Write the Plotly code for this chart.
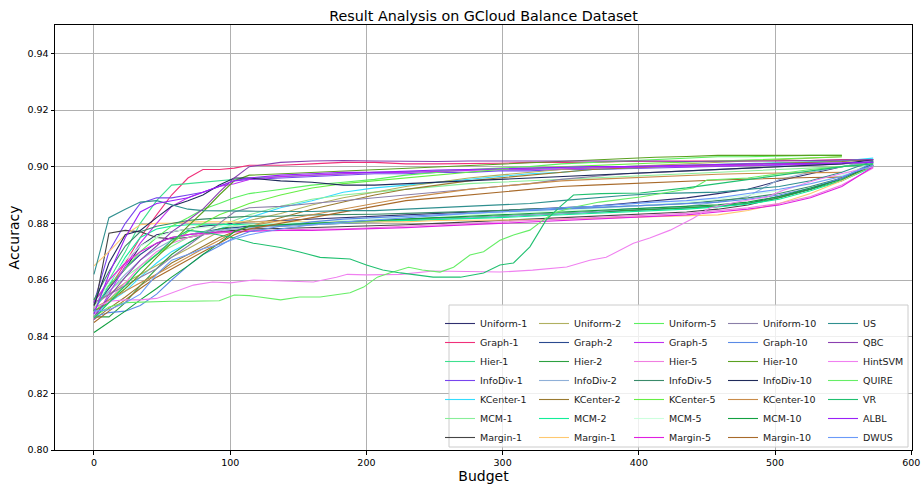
import plotly.graph_objects as go

# ---------------- data ----------------
BUDGET = [0, 11, 23, 34, 46, 57, 69, 80, 92, 103,
          114, 137, 160, 183, 206, 229, 252, 275, 297, 320,
          343, 366, 389, 412, 435, 458, 480, 503, 526, 549,
          572]

uniform_1 = [0.853, 0.858, 0.864, 0.872, 0.876, 0.877, 0.878, 0.879, 0.8795, 0.880,
             0.8805, 0.881, 0.8815, 0.882, 0.8825, 0.883, 0.8835, 0.884, 0.8845, 0.885,
             0.8855, 0.886, 0.887, 0.888, 0.889, 0.8905, 0.892, 0.895, 0.8975, 0.900,
             0.902]
graph_1 = [0.851, 0.857, 0.866, 0.875, 0.883, 0.890, 0.896, 0.899, 0.899, 0.8995,
           0.9005, 0.9005, 0.901, 0.9015, 0.9015, 0.901, 0.901, 0.901, 0.9012, 0.9015,
           0.9015, 0.9015, 0.9018, 0.902, 0.902, 0.902, 0.902, 0.9022, 0.9022, 0.9025,
           0.9025]
hier_1 = [0.850, 0.860, 0.870, 0.880, 0.888, 0.8935, 0.894, 0.8945, 0.895, 0.8955,
          0.896, 0.8965, 0.897, 0.8975, 0.898, 0.8982, 0.8985, 0.899, 0.899, 0.8993,
          0.8995, 0.8998, 0.900, 0.9003, 0.9005, 0.9008, 0.901, 0.9013, 0.9016, 0.902,
          0.9025]
infodiv_1 = [0.852, 0.870, 0.880, 0.887, 0.889, 0.889, 0.890, 0.891, 0.893, 0.895,
             0.8955, 0.896, 0.8965, 0.897, 0.8975, 0.8975, 0.898, 0.898, 0.8985, 0.8985,
             0.899, 0.899, 0.8993, 0.8995, 0.8998, 0.900, 0.9003, 0.9005, 0.9008, 0.901,
             0.9015]
kcenter_1 = [0.848, 0.852, 0.856, 0.861, 0.866, 0.870, 0.873, 0.876, 0.878, 0.880,
             0.882, 0.8855, 0.888, 0.891, 0.8925, 0.8935, 0.8945, 0.8955, 0.8965, 0.8975,
             0.898, 0.899, 0.8995, 0.900, 0.9003, 0.9006, 0.901, 0.9013, 0.9016, 0.902,
             0.903]
mcm_1 = [0.851, 0.856, 0.861, 0.865, 0.869, 0.872, 0.875, 0.877, 0.879, 0.881,
         0.883, 0.886, 0.8885, 0.890, 0.891, 0.892, 0.893, 0.894, 0.8945, 0.895,
         0.8955, 0.896, 0.8965, 0.897, 0.8975, 0.898, 0.8985, 0.899, 0.8995, 0.900,
         0.9015]
margin_1 = [0.849, 0.8765, 0.8775, 0.877, 0.875, 0.8745, 0.875, 0.876, 0.877, 0.8775,
            0.878, 0.8782, 0.8785, 0.8788, 0.879, 0.8795, 0.880, 0.8805, 0.881, 0.8815,
            0.882, 0.8825, 0.883, 0.8835, 0.884, 0.885, 0.8865, 0.889, 0.892, 0.896,
            0.9005]
uniform_2 = [0.851, 0.855, 0.859, 0.862, 0.865, 0.868, 0.871, 0.874, 0.877, 0.880,
             0.881, 0.8835, 0.8865, 0.889, 0.891, 0.893, 0.8945, 0.896, 0.897, 0.898,
             0.899, 0.8995, 0.900, 0.9005, 0.901, 0.9015, 0.902, 0.9025, 0.903, 0.9035]
graph_2 = [0.850, 0.857, 0.864, 0.869, 0.873, 0.875, 0.876, 0.877, 0.878, 0.8785,
           0.879, 0.879, 0.8795, 0.880, 0.8805, 0.881, 0.8815, 0.882, 0.8825, 0.883,
           0.8835, 0.884, 0.8845, 0.885, 0.8855, 0.886, 0.887, 0.8895, 0.892, 0.896,
           0.901]
hier_2 = [0.847, 0.847, 0.852, 0.858, 0.864, 0.869, 0.873, 0.876, 0.878, 0.879,
          0.8795, 0.8795, 0.880, 0.8805, 0.881, 0.8815, 0.882, 0.882, 0.8825, 0.883,
          0.8835, 0.884, 0.8845, 0.885, 0.8855, 0.886, 0.887, 0.889, 0.892, 0.895,
          0.9005]
infodiv_2 = [0.850, 0.856, 0.862, 0.867, 0.871, 0.874, 0.876, 0.877, 0.8775, 0.878,
             0.8785, 0.879, 0.8795, 0.880, 0.8805, 0.881, 0.8815, 0.882, 0.8825, 0.883,
             0.8835, 0.884, 0.885, 0.8855, 0.886, 0.8875, 0.8895, 0.8955, 0.898, 0.900,
             0.902]
kcenter_2 = [0.846, 0.850, 0.854, 0.858, 0.862, 0.866, 0.869, 0.872, 0.875, 0.877,
             0.879, 0.882, 0.885, 0.8875, 0.890, 0.892, 0.8935, 0.895, 0.896, 0.897,
             0.898, 0.899, 0.8995, 0.900, 0.9003, 0.9006, 0.901, 0.9012, 0.9015, 0.9018,
             0.9025]
mcm_2 = [0.849, 0.858, 0.868, 0.875, 0.878, 0.879, 0.8795, 0.8795, 0.8795, 0.8795,
         0.8795, 0.8797, 0.880, 0.8803, 0.8806, 0.881, 0.8813, 0.8816, 0.882, 0.8825,
         0.883, 0.8835, 0.884, 0.8845, 0.885, 0.8858, 0.8868, 0.8885, 0.8915, 0.895,
         0.900]
margin_1b = [0.865, 0.870, 0.876, 0.8795, 0.880, 0.880, 0.8805, 0.8805, 0.8805, 0.8805,
             0.8805, 0.8805, 0.8805, 0.8805, 0.8805, 0.8805, 0.881, 0.881, 0.881, 0.8812,
             0.8815, 0.8818, 0.882, 0.8822, 0.8825, 0.883, 0.8845, 0.887, 0.8905, 0.895,
             0.9005]
uniform_5 = [0.853, 0.858, 0.864, 0.870, 0.875, 0.879, 0.882, 0.885, 0.887, 0.889,
             0.8905, 0.892, 0.8935, 0.8945, 0.8955, 0.897, 0.898, 0.899, 0.8995, 0.900,
             0.901, 0.9015, 0.902, 0.9025, 0.903, 0.9035, 0.9035, 0.9038, 0.904, 0.904]
graph_5 = [0.846, 0.855, 0.865, 0.873, 0.880, 0.886, 0.889, 0.891, 0.893, 0.894,
           0.8955, 0.8965, 0.897, 0.8975, 0.898, 0.898, 0.8983, 0.8985, 0.899, 0.899,
           0.8993, 0.8995, 0.8998, 0.900, 0.900, 0.9003, 0.9005, 0.9008, 0.901, 0.9012,
           0.9018]
hier_5 = [0.848, 0.853, 0.859, 0.865, 0.870, 0.873, 0.875, 0.876, 0.8765, 0.877,
          0.8775, 0.8775, 0.878, 0.878, 0.8785, 0.879, 0.8795, 0.880, 0.8805, 0.881,
          0.8815, 0.882, 0.8825, 0.883, 0.8835, 0.8845, 0.8855, 0.887, 0.8895, 0.8935,
          0.8995]
infodiv_5 = [0.853, 0.863, 0.872, 0.877, 0.879, 0.880, 0.881, 0.8815, 0.882, 0.8822,
             0.8825, 0.8825, 0.883, 0.883, 0.8832, 0.8835, 0.8838, 0.884, 0.8845, 0.885,
             0.8852, 0.8855, 0.886, 0.8865, 0.887, 0.888, 0.889, 0.8905, 0.893, 0.896,
             0.9015]
kcenter_5 = [0.849, 0.853, 0.858, 0.864, 0.869, 0.873, 0.877, 0.880, 0.883, 0.885,
             0.887, 0.890, 0.8925, 0.894, 0.895, 0.896, 0.897, 0.898, 0.899, 0.8995,
             0.900, 0.9005, 0.901, 0.9013, 0.9016, 0.902, 0.9023, 0.9026, 0.903, 0.9035]
mcm_5 = [0.850, 0.859, 0.867, 0.872, 0.875, 0.877, 0.878, 0.8785, 0.879, 0.879,
         0.8795, 0.880, 0.8805, 0.881, 0.8815, 0.882, 0.8825, 0.883, 0.8835, 0.884,
         0.8845, 0.885, 0.8858, 0.8866, 0.8875, 0.8885, 0.890, 0.8915, 0.894, 0.897,
         0.9015]
margin_5 = [0.852, 0.860, 0.866, 0.870, 0.873, 0.875, 0.876, 0.8765, 0.877, 0.877,
            0.8772, 0.8775, 0.8775, 0.8778, 0.878, 0.8785, 0.879, 0.8795, 0.880, 0.8805,
            0.881, 0.8815, 0.882, 0.8825, 0.883, 0.884, 0.885, 0.8865, 0.889, 0.893,
            0.900]
uniform_10 = [0.852, 0.855, 0.858, 0.861, 0.864, 0.868, 0.872, 0.876, 0.880, 0.884,
              0.8855, 0.886, 0.887, 0.888, 0.889, 0.890, 0.891, 0.892, 0.893, 0.894,
              0.8955, 0.8965, 0.8975, 0.898, 0.8985, 0.899, 0.8995, 0.900, 0.9005, 0.901,
              0.9015]
graph_10 = [0.847, 0.8485, 0.849, 0.851, 0.855, 0.860, 0.865, 0.869, 0.872, 0.875,
            0.877, 0.879, 0.8805, 0.8815, 0.882, 0.8825, 0.883, 0.8835, 0.884, 0.8845,
            0.885, 0.8855, 0.886, 0.8865, 0.887, 0.8875, 0.8885, 0.890, 0.8925, 0.896,
            0.9015]
hier_10 = [0.849, 0.852, 0.857, 0.862, 0.868, 0.873, 0.879, 0.884, 0.890, 0.895,
           0.897, 0.8975, 0.898, 0.8985, 0.899, 0.8995, 0.900, 0.9005, 0.901, 0.9015,
           0.902, 0.9025, 0.903, 0.9033, 0.9036, 0.904, 0.904, 0.904, 0.904, 0.904]
infodiv_10 = [0.851, 0.866, 0.876, 0.8775, 0.882, 0.886, 0.888, 0.890, 0.8935, 0.896,
              0.896, 0.895, 0.8945, 0.8935, 0.8935, 0.894, 0.8945, 0.895, 0.8955, 0.896,
              0.8965, 0.897, 0.8975, 0.898, 0.8985, 0.899, 0.8995, 0.900, 0.9005, 0.901,
              0.9025]
kcenter_10 = [0.850, 0.853, 0.856, 0.859, 0.862, 0.865, 0.868, 0.871, 0.874, 0.877,
              0.879, 0.881, 0.883, 0.885, 0.887, 0.889, 0.8905, 0.892, 0.893, 0.894,
              0.895, 0.8955, 0.896, 0.8965, 0.897, 0.8973, 0.8976, 0.8978, 0.898, 0.898]
mcm_10 = [0.8415, 0.845, 0.849, 0.853, 0.857, 0.861, 0.865, 0.869, 0.873, 0.877,
          0.879, 0.8795, 0.880, 0.8805, 0.881, 0.8815, 0.882, 0.8825, 0.883, 0.8835,
          0.884, 0.8845, 0.885, 0.8855, 0.886, 0.8865, 0.8875, 0.8895, 0.8925, 0.8955,
          0.9005]
margin_10 = [0.845, 0.849, 0.853, 0.857, 0.861, 0.864, 0.867, 0.870, 0.873, 0.876,
             0.878, 0.880, 0.882, 0.884, 0.886, 0.888, 0.889, 0.890, 0.891, 0.892,
             0.893, 0.8935, 0.894, 0.8945, 0.895, 0.8953, 0.8956, 0.896, 0.8962, 0.8963]
us = [0.862, 0.882, 0.885, 0.8875, 0.888, 0.8865, 0.885, 0.8845, 0.8845, 0.8845,
      0.8843, 0.8842, 0.8842, 0.8845, 0.8845, 0.885, 0.8855, 0.886, 0.8865, 0.887,
      0.888, 0.889, 0.8898, 0.8905, 0.8908, 0.891, 0.892, 0.893, 0.895, 0.898,
      0.902]
qbc = [0.847, 0.854, 0.861, 0.867, 0.872, 0.877, 0.881, 0.885, 0.891, 0.896,
       0.900, 0.9015, 0.902, 0.9022, 0.902, 0.9018, 0.9018, 0.902, 0.902, 0.902,
       0.9022, 0.9022, 0.902, 0.902, 0.9018, 0.902, 0.902, 0.902, 0.9022, 0.9022,
       0.9025]
hint_budget = [0, 11, 23, 34, 46, 53, 63, 73, 87, 100,
               117, 137, 161, 178, 186, 200, 225, 249, 275, 298,
               322, 347, 364, 376, 396, 408, 423, 440, 452, 472,
               494, 506, 530, 550, 572]
hintsvm = [0.850, 0.8525, 0.853, 0.853, 0.8535, 0.8547, 0.8565, 0.8582, 0.8593, 0.859,
           0.860, 0.8598, 0.8593, 0.861, 0.862, 0.8618, 0.862, 0.8632, 0.863, 0.8628,
           0.8635, 0.8646, 0.867, 0.868, 0.873, 0.8748, 0.8776, 0.8818, 0.8854, 0.8875,
           0.8893, 0.8917, 0.8953, 0.8977, 0.900]
quire_budget = [0, 11, 23, 34, 46, 57, 69, 80, 92, 103,
                114, 137, 151, 166, 188, 198, 208, 217, 231, 241,
                254, 264, 276, 286, 298, 308, 320, 330, 337, 352,
                371, 401, 440, 450, 480, 503, 526, 549, 572]
quire = [0.847, 0.8505, 0.852, 0.8522, 0.8523, 0.8525, 0.8525, 0.8525, 0.8527, 0.8547,
         0.8545, 0.853, 0.854, 0.854, 0.8555, 0.8575, 0.861, 0.8625, 0.8645, 0.8635,
         0.8628, 0.8645, 0.8688, 0.870, 0.874, 0.8759, 0.8776, 0.8812, 0.8836, 0.8857,
         0.8875, 0.8893, 0.8925, 0.8953, 0.896, 0.8975, 0.899, 0.900, 0.901]
vr_budget = [0, 11, 23, 34, 46, 57, 69, 80, 92, 103,
             117, 137, 151, 166, 188, 200, 212, 225, 249, 269,
             286, 298, 308, 320, 332, 342, 352, 372, 401, 435,
             458, 480, 503, 526, 549, 572]
vr = [0.8465, 0.852, 0.858, 0.864, 0.869, 0.874, 0.8775, 0.877, 0.8758, 0.8748,
      0.873, 0.8715, 0.8699, 0.868, 0.8674, 0.8653, 0.8635, 0.8625, 0.861, 0.861,
      0.8625, 0.8653, 0.866, 0.8717, 0.8812, 0.8858, 0.890, 0.8905, 0.8907, 0.8925,
      0.894, 0.8955, 0.897, 0.8985, 0.900, 0.901]
albl = [0.848, 0.862, 0.875, 0.884, 0.887, 0.888, 0.889, 0.891, 0.893, 0.895,
        0.896, 0.897, 0.8975, 0.898, 0.898, 0.8985, 0.8988, 0.899, 0.8993, 0.8995,
        0.8998, 0.900, 0.900, 0.9003, 0.9005, 0.9007, 0.901, 0.901, 0.9012, 0.9013,
        0.9015]
dwus = [0.849, 0.8495, 0.852, 0.855, 0.862, 0.867, 0.869, 0.871, 0.8725, 0.8745,
        0.876, 0.878, 0.8795, 0.8805, 0.8812, 0.882, 0.8828, 0.8835, 0.884, 0.8848,
        0.8855, 0.886, 0.8868, 0.8875, 0.888, 0.889, 0.8905, 0.892, 0.894, 0.8965,
        0.9005]

NAMES = ["Uniform-1", "Graph-1", "Hier-1", "InfoDiv-1", "KCenter-1", "MCM-1", "Margin-1",
         "Uniform-2", "Graph-2", "Hier-2", "InfoDiv-2", "KCenter-2", "MCM-2", "Margin-1",
         "Uniform-5", "Graph-5", "Hier-5", "InfoDiv-5", "KCenter-5", "MCM-5", "Margin-5",
         "Uniform-10", "Graph-10", "Hier-10", "InfoDiv-10", "KCenter-10", "MCM-10", "Margin-10",
         "US", "QBC", "HintSVM", "QUIRE", "VR", "ALBL", "DWUS"]
VALUES = [uniform_1, graph_1, hier_1, infodiv_1, kcenter_1, mcm_1, margin_1,
          uniform_2, graph_2, hier_2, infodiv_2, kcenter_2, mcm_2, margin_1b,
          uniform_5, graph_5, hier_5, infodiv_5, kcenter_5, mcm_5, margin_5,
          uniform_10, graph_10, hier_10, infodiv_10, kcenter_10, mcm_10, margin_10,
          us, qbc, hintsvm, quire, vr, albl, dwus]
XS = {"HintSVM": hint_budget, "QUIRE": quire_budget, "VR": vr_budget}

# ---------------- styles ----------------
COLORS = ["#2f2f6f", "#f0307a", "#3ee08f", "#7744ee", "#33ddff", "#88ee99", "#444444",
          "#b0b060", "#2a4a8f", "#2ca040", "#8fb0d8", "#9a7a30", "#11ee99", "#ffc870",
          "#5cf060", "#c030f0", "#f07ee0", "#3a8a6a", "#66ee44", "#ccffdd", "#e020e0",
          "#8a7fa8", "#5a8ae6", "#5aa020", "#1f2a5a", "#c98c4a", "#12a040", "#a86a2a",
          "#2f8f8f", "#8a3fb0", "#f080f0", "#66ee66", "#20c070", "#9a20f8", "#6a9af8"]

FONT = "DejaVu Sans"
W, H = 923, 490
ML, MR, MT, MB = 55, 11, 25, 40
PW, PH = W - ML - MR, H - MT - MB

fig = go.Figure()
for i, (name, ys, color) in enumerate(zip(NAMES, VALUES, COLORS)):
    xs = XS.get(name, BUDGET)[:len(ys)]
    col = i // 7
    fig.add_trace(go.Scatter(
        x=xs, y=ys, mode="lines", name=name,
        line=dict(color=color, width=1.1),
        legend="legend" if col == 0 else f"legend{col + 1}",
    ))

def px_x(p):
    return (p - ML) / PW

def px_y(p):
    return (H - MB - p) / PH

legend_text_px = [480, 574, 669, 763, 863]
legends = {}
for k, tx in enumerate(legend_text_px):
    key = "legend" if k == 0 else f"legend{k + 1}"
    legends[key] = dict(
        x=px_x(tx - 40), y=px_y(309), xanchor="left", yanchor="top",
        bgcolor="rgba(0,0,0,0)", borderwidth=0, itemwidth=30, tracegroupgap=0,
        font=dict(family=FONT, size=9.5, color="#1a1a1a"),
    )

axis_common = dict(
    showline=True, linecolor="#000000", linewidth=1, mirror=True,
    ticks="outside", ticklen=3.5, tickwidth=0.8, tickcolor="#000000",
    showgrid=True, gridcolor="#b0b0b0", gridwidth=0.8, zeroline=False,
    automargin=False,
    tickfont=dict(family=FONT, size=9.5, color="#000000"),
)

fig.update_layout(
    width=W, height=H,
    margin=dict(l=ML, r=MR, t=MT, b=MB, autoexpand=False),
    paper_bgcolor="white", plot_bgcolor="white",
    hovermode=False,
    title=dict(text="Result Analysis on GCloud Balance Dataset",
               x=0.5, xref="paper", xanchor="center",
               y=(H - 16) / H, yref="container", yanchor="middle",
               font=dict(family=FONT, size=14.3, color="#000000")),
    xaxis=dict(range=[-28.6, 600.5], tickvals=[0, 100, 200, 300, 400, 500, 600],
               title=dict(text="Budget", standoff=4,
                          font=dict(family=FONT, size=14, color="#000000")),
               **axis_common),
    yaxis=dict(range=[0.80, 0.95], tickvals=[0.80, 0.82, 0.84, 0.86, 0.88, 0.90, 0.92, 0.94],
               tickformat=".2f",
               title=dict(text="Accuracy", standoff=4,
                          font=dict(family=FONT, size=14, color="#000000")),
               **axis_common),
    shapes=[dict(type="rect", xref="paper", yref="paper", layer="above",
                 x0=px_x(449), x1=px_x(908), y0=px_y(447), y1=px_y(305),
                 fillcolor="rgba(255,255,255,0.8)",
                 line=dict(color="#cccccc", width=1))],
    showlegend=True,
    **legends,
)

fig.write_html("out.html",
               config={"displayModeBar": False},
               post_script="document.body.style.margin='0px';document.body.style.padding='0px';")
